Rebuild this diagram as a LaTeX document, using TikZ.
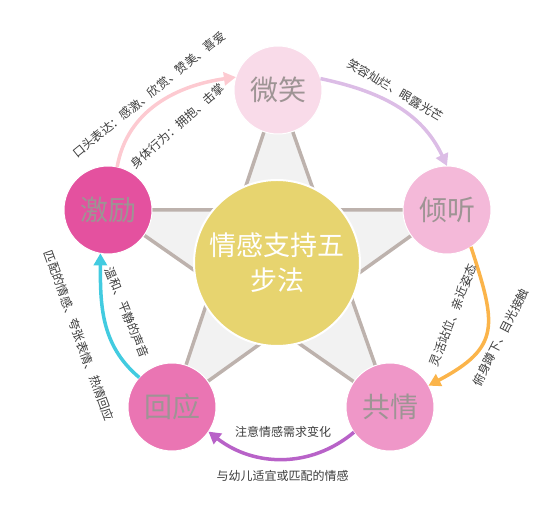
\documentclass[tikz,border=0pt]{standalone}
\usepackage{fontspec}
\setmainfont{Noto Sans CJK SC}
\usetikzlibrary{arrows.meta}
\definecolor{cwx}{HTML}{F9DBE9}
\definecolor{cqt}{HTML}{F4B9D9}
\definecolor{cgq}{HTML}{EF97C8}
\definecolor{chy}{HTML}{EA75B3}
\definecolor{cjl}{HTML}{E4519F}
\definecolor{cmid}{HTML}{E7D46F}
\definecolor{starline}{HTML}{BDB2AD}
\definecolor{starfill}{HTML}{F2F2F2}
\definecolor{ctxt}{HTML}{9E9494}
\definecolor{clab}{HTML}{3C3C3C}
\definecolor{aone}{HTML}{FDCAD1}
\definecolor{atwo}{HTML}{DCBDE6}
\definecolor{athree}{HTML}{FBB44A}
\definecolor{afour}{HTML}{B862C8}
\definecolor{afive}{HTML}{42CBE0}
\tikzset{
  stepcircle/.style={circle, minimum size=88pt, inner sep=0pt, outer sep=0pt,
    draw=white, line width=1pt, text=ctxt, font=\fontsize{28}{30}\selectfont},
  midcircle/.style={circle, minimum size=166pt, inner sep=0pt, outer sep=0pt,
    draw=white, line width=2pt, fill=cmid, text=white, align=center,
    font=\fontsize{27}{35}\selectfont},
  starshape/.style={fill=starfill, draw=starline, line width=3.5pt},
  arr/.style={line width=3.5pt, -{Triangle[length=12pt,width=13pt]}},
  lab/.style={text=clab, font=\fontsize{12}{14}\selectfont, inner sep=0pt}
}
\begin{document}
\begin{tikzpicture}[x=1pt,y=1pt]
\useasboundingbox (0,0) rectangle (554,505);
\coordinate (pwx) at (278,415);
\coordinate (pqt) at (447,295);
\coordinate (pgq) at (390,98);
\coordinate (phy) at (172,98);
\coordinate (pjl) at (108,295);
\filldraw[starshape] (pwx) -- (pgq) -- (pjl) -- (pqt) -- (phy) -- cycle;
\node[midcircle] (c) at (277,242) {情感支持五\\步法};
\node[stepcircle, fill=cwx] (wx) at (pwx) {微笑};
\node[stepcircle, fill=cqt] (qt) at (pqt) {倾听};
\node[stepcircle, fill=cgq] (gq) at (pgq) {共情};
\node[stepcircle, fill=chy] (hy) at (phy) {回应};
\node[stepcircle, fill=cjl] (jl) at (pjl) {激励};
\draw[arr, aone] (jl.78) to[out=80, in=188] (wx.163);
\draw[arr, atwo] (wx.15) to[out=-12, in=115] (qt.90);
\draw[arr, athree] (qt.-57) to[out=-72, in=28, looseness=1.45] (gq.29);
\draw[arr, afour] (gq.-145) to[out=-140, in=-38] (hy.-34);
\draw[arr, afive] (hy.138) to[out=140, in=270] (jl.-100);
\node[lab, rotate=39] (l1) at (149,410.5) {口头表达：感激、欣赏、赞美、喜爱};
\node[lab, rotate=42] (l2) at (177.5,379) {身体行为：拥抱、击掌};
\node[lab, rotate=-30.5] (l3) at (395.5,415) {笑容灿烂、眼露光芒};
\node[lab, rotate=69] (l4) at (453,190) {灵活站位、亲近姿态};
\node[lab, rotate=63] (l5) at (500.5,167.5) {俯身蹲下、目光接触};
\node[lab] (l6) at (283,73) {注意情感需求变化};
\node[lab] (l7) at (282.5,29) {与幼儿适宜或匹配的情感};
\node[lab, rotate=-68] (l8) at (127,192.5) {温和、平静的声音};
\node[lab, rotate=-70] (l9) at (79,169) {匹配的情感、夸张表情、热情回应};
\end{tikzpicture}
\end{document}
